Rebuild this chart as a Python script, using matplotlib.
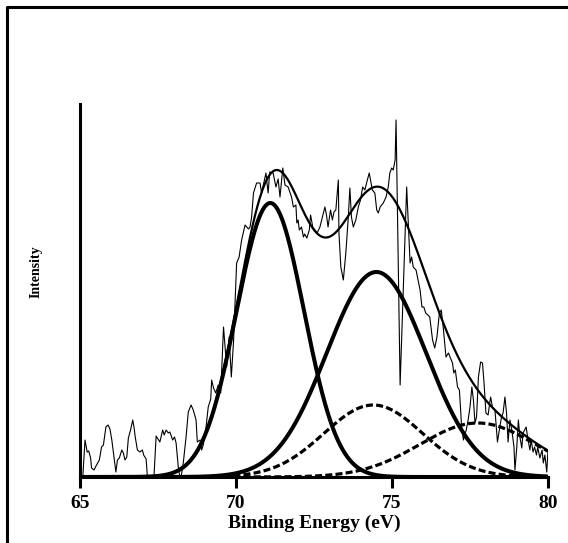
import numpy as np
import matplotlib.pyplot as plt
from matplotlib.lines import Line2D

# measured spectrum (binding energy in eV, intensity in arbitrary units)
energia = [65.09, 65.16, 65.23, 65.28, 65.34, 65.37, 65.45, 65.53, 65.62, 65.69,
           65.75, 65.83, 65.90, 65.96, 66.02, 66.07, 66.15, 66.20, 66.26, 66.34,
           66.39, 66.44, 66.50, 66.55, 66.62, 66.69, 66.73, 66.77, 66.84, 66.92,
           67.00, 67.04, 67.12, 67.16, 67.37, 67.44, 67.52, 67.56, 67.65, 67.70,
           67.76, 67.83, 67.88, 67.97, 68.03, 68.08, 68.15, 68.20, 68.25, 68.31,
           68.40, 68.47, 68.56, 68.63, 68.72, 68.76, 68.85, 68.90, 68.95, 69.04,
           69.11, 69.19, 69.22, 69.28, 69.35, 69.43, 69.51, 69.60, 69.70, 69.78,
           69.85, 69.92, 70.02, 70.10, 70.18, 70.29, 70.40, 70.45, 70.50, 70.56,
           70.66, 70.77, 70.82, 70.89, 70.96, 71.03, 71.08, 71.19, 71.28, 71.35,
           71.41, 71.50, 71.57, 71.67, 71.78, 71.84, 71.92, 71.95, 71.99, 72.03,
           72.10, 72.16, 72.20, 72.27, 72.35, 72.39, 72.46, 72.53, 72.60, 72.69,
           72.77, 72.85, 72.90, 72.95, 73.03, 73.09, 73.14, 73.20, 73.28, 73.30,
           73.36, 73.44, 73.52, 73.60, 73.65, 73.70, 73.76, 73.84, 73.92, 73.99,
           74.06, 74.13, 74.21, 74.27, 74.31, 74.37, 74.45, 74.51, 74.56, 74.62,
           74.72, 74.81, 74.88, 74.93, 74.99, 75.04, 75.10, 75.13, 75.26, 75.47,
           75.58, 75.63, 75.68, 75.77, 75.90, 75.96, 76.02, 76.08, 76.15, 76.21,
           76.30, 76.37, 76.44, 76.52, 76.58, 76.65, 76.73, 76.81, 76.86, 76.94,
           76.98, 77.03, 77.10, 77.16, 77.20, 77.23, 77.29, 77.38, 77.44, 77.50,
           77.56, 77.61, 77.66, 77.71, 77.77, 77.84, 77.90, 77.95, 78.01, 78.08,
           78.16, 78.22, 78.30, 78.38, 78.44, 78.51, 78.56, 78.62, 78.67, 78.72,
           78.78, 78.84, 78.91, 78.94, 79.00, 79.05, 79.10, 79.16, 79.20, 79.30,
           79.35, 79.42, 79.46, 79.52, 79.57, 79.63, 79.67, 79.74, 79.81, 79.85,
           79.90, 79.96, 80.00]
intensidade = [0, 37, 25, 26, 19, 9, 7, 12, 17, 30,
               32, 50, 52, 48, 37, 25, 5, 17, 19, 27,
               24, 17, 20, 39, 47, 57, 50, 40, 27, 25,
               27, 22, 18, 0, 0, 41, 37, 35, 47, 42,
               47, 44, 45, 37, 40, 34, 10, 0, 2, 14,
               40, 65, 72, 67, 57, 35, 37, 27, 32, 50,
               70, 78, 97, 89, 84, 92, 84, 150, 110, 140,
               100, 135, 214, 220, 237, 252, 248, 250, 260, 284,
               294, 294, 284, 294, 304, 284, 305, 304, 290, 298,
               280, 309, 292, 290, 280, 270, 272, 254, 257, 247,
               250, 240, 243, 239, 247, 262, 250, 247, 244, 250,
               260, 270, 262, 250, 267, 257, 265, 267, 297, 244,
               210, 197, 224, 260, 289, 260, 250, 257, 270, 277,
               290, 287, 297, 304, 297, 287, 284, 267, 264, 270,
               274, 280, 290, 304, 309, 307, 317, 357, 92, 290,
               214, 220, 210, 207, 187, 170, 170, 164, 162, 160,
               137, 129, 140, 164, 167, 147, 120, 124, 120, 114,
               104, 107, 90, 87, 67, 50, 37, 47, 57, 70,
               90, 77, 54, 60, 100, 115, 114, 94, 64, 62,
               80, 70, 67, 35, 47, 60, 64, 80, 64, 35,
               57, 47, 30, 7, 30, 57, 40, 29, 44, 50,
               39, 27, 37, 25, 30, 22, 30, 19, 27, 14,
               22, 5, 27]

# fitted components (center eV, height, sigma eV)
centros = [71.1, 74.5, 74.4, 77.75]
alturas = [274, 205, 72, 54]
larguras = [1.08, 1.59, 1.58, 1.85]
tracejado = [False, False, True, True]

plt.rcParams['font.family'] = ['Liberation Serif', 'DejaVu Serif']
plt.rcParams['font.weight'] = 'bold'

fig = plt.figure(figsize=(5.68, 5.43), dpi=100)
ax = fig.add_axes([80 / 568, 1 - 477 / 543, 468 / 568, 373 / 543])

x = np.linspace(65, 80, 600)
envelope = np.zeros_like(x)
for c, a, s, d in zip(centros, alturas, larguras, tracejado):
    y = a * np.exp(-(x - c) ** 2 / (2 * s ** 2))
    envelope += y
    if d:
        ax.plot(x, y, color='black', lw=2.3, linestyle=(0, (2.2, 1.0)))
    else:
        ax.plot(x, y, color='black', lw=2.9)

ax.plot(energia, intensidade, color='black', lw=0.8)
ax.plot(x, envelope, color='black', lw=1.6)

ax.set_xlim(65, 80)
ax.set_ylim(0, 373)
ax.set_xticks([65, 70, 75, 80])
ax.set_yticks([])
ax.tick_params(axis='x', direction='out', length=8, width=2.2, pad=5, labelsize=14)
for lab in ax.get_xticklabels():
    lab.set_fontweight('bold')

ax.spines['top'].set_visible(False)
ax.spines['right'].set_visible(False)
for sp in ['left', 'bottom']:
    ax.spines[sp].set_linewidth(2.2)
    ax.spines[sp].set_zorder(5)

ax.set_xlabel('Binding Energy (eV)', fontsize=14, fontweight='bold')
ax.xaxis.set_label_coords(0.5, -0.102)
ax.set_ylabel('Intensity', fontsize=10, fontweight='bold')
ax.yaxis.set_label_coords(-0.079, 0.55)

# moldura parcial da figura
bx = 6.5 / 568
by = 1 - 6.5 / 543
fig.add_artist(Line2D([bx, bx, 1.0], [0.0, by, by], transform=fig.transFigure,
                      color='black', lw=2.2))

fig.savefig('out.png', dpi=100)
